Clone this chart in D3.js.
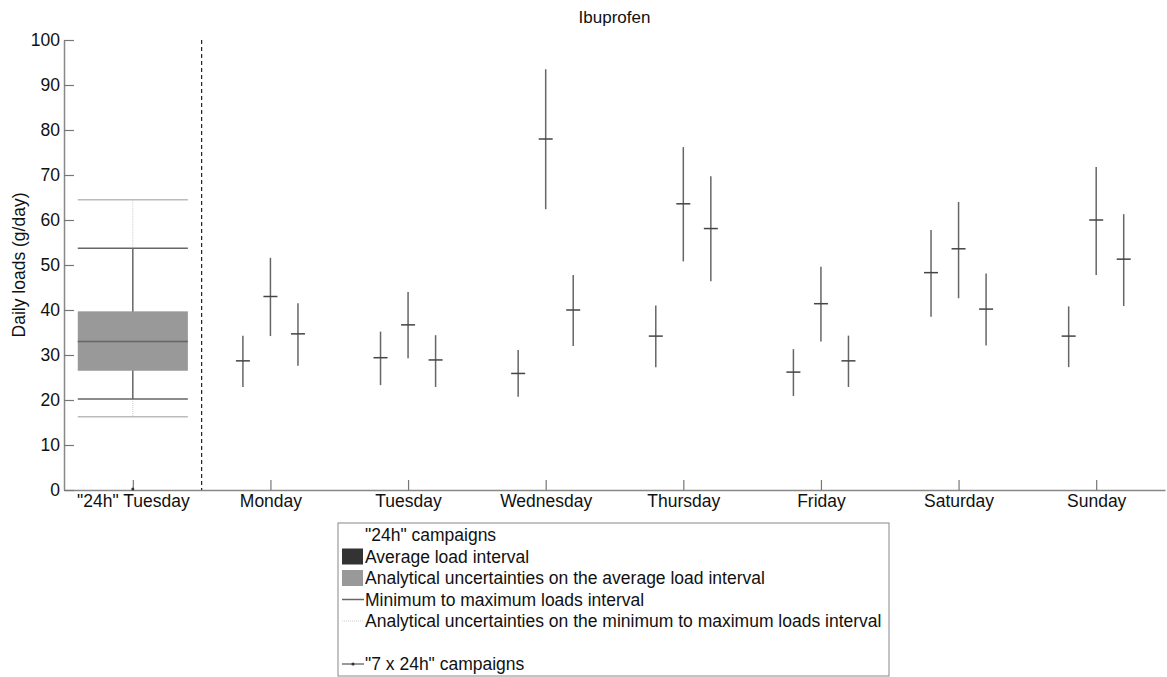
<!DOCTYPE html>
<html>
<head>
<meta charset="utf-8">
<script src="https://cdn.jsdelivr.net/npm/d3@7"></script>
<style>
  body { margin: 0; background: #fff; }
  text { font-family: "Liberation Sans", Arial, sans-serif; fill: #111; }
</style>
</head>
<body>
<div id="chart"></div>
<script>
const kWidth = 1167;
const kHeight = 677;
const kMargin = { top: 40, right: 2, bottom: 187, left: 64 };

const chartTitle = "Ibuprofen";
const yLabel = "Daily loads (g/day)";
const categories = ['"24h" Tuesday', "Monday", "Tuesday", "Wednesday", "Thursday", "Friday", "Saturday", "Sunday"];
const yTicks = [0, 10, 20, 30, 40, 50, 60, 70, 80, 90, 100];

// "24h" campaign summary (Tuesday)
const boxLow = 26.5, boxHigh = 39.7, boxMid = 33.0;
const whiskerLow = 20.2, whiskerHigh = 53.7;
const uncertLow = 16.3, uncertHigh = 64.5;

// "7 x 24h" campaigns, three per weekday
const weekDays = ["Monday", "Tuesday", "Wednesday", "Thursday", "Friday", "Saturday", "Sunday"];
const weekMean = [
  [28.7, 43.0, 34.7],
  [29.4, 36.7, 28.9],
  [25.9, 78.0, 40.0],
  [34.2, 63.6, 58.1],
  [26.2, 41.4, 28.7],
  [48.3, 53.6, 40.2],
  [34.2, 60.0, 51.3]
];
const weekLow = [
  [22.9, 34.2, 27.6],
  [23.3, 29.3, 22.9],
  [20.7, 62.4, 32.0],
  [27.3, 50.8, 46.4],
  [20.9, 33.0, 22.9],
  [38.5, 42.6, 32.1],
  [27.3, 47.8, 40.9]
];
const weekHigh = [
  [34.3, 51.6, 41.5],
  [35.2, 44.0, 34.4],
  [31.1, 93.5, 47.8],
  [41.0, 76.2, 69.7],
  [31.3, 49.6, 34.3],
  [57.8, 64.0, 48.1],
  [40.8, 71.8, 61.3]
];
const campaignOffsets = [-0.2, 0, 0.2];

const legendItems = [
  { label: '"24h" campaigns', kind: "none" },
  { label: "Average load interval", kind: "dark" },
  { label: "Analytical uncertainties on the average load interval", kind: "grey" },
  { label: "Minimum to maximum loads interval", kind: "line" },
  { label: "Analytical uncertainties on the minimum to maximum loads interval", kind: "dotted" },
  { label: "", kind: "none" },
  { label: '"7 x 24h" campaigns', kind: "marker" }
];

const svg = d3.select("#chart").append("svg")
  .attr("width", kWidth)
  .attr("height", kHeight);

const innerW = kWidth - kMargin.left - kMargin.right;
const innerH = kHeight - kMargin.top - kMargin.bottom;

const x = d3.scalePoint().domain(categories).range([0, innerW]).padding(0.5);
const step = x.step();
const y = d3.scaleLinear().domain([0, 100]).range([innerH, 0]);

const g = svg.append("g").attr("transform", `translate(${kMargin.left},${kMargin.top})`);

svg.append("text")
  .attr("x", kMargin.left + innerW / 2)
  .attr("y", 23)
  .attr("text-anchor", "middle")
  .style("font-size", "17px")
  .text(chartTitle);

svg.append("text")
  .attr("transform", `translate(25,${kMargin.top + innerH / 2}) rotate(-90)`)
  .attr("text-anchor", "middle")
  .style("font-size", "17.5px")
  .text(yLabel);

// axes
const xAxis = d3.axisBottom(x).tickSizeInner(-10).tickSizeOuter(0).tickPadding(5);
const yAxis = d3.axisLeft(y).tickValues(yTicks).tickSizeInner(-10).tickSizeOuter(0).tickPadding(4);

const gx = g.append("g").attr("transform", `translate(0,${innerH})`).call(xAxis);
const gy = g.append("g").call(yAxis);
[gx, gy].forEach(a => {
  a.select(".domain").attr("stroke", "#888").attr("stroke-width", 1.5);
  a.selectAll(".tick line").attr("stroke", "#777").attr("stroke-width", 1.2);
  a.selectAll(".tick text").style("font-size", "17.5px").attr("fill", "#111")
    .style("font-family", '"Liberation Sans", Arial, sans-serif');
});

// separator between "24h" and weekly campaigns
const sepX = x(categories[0]) + step / 2;
g.append("line")
  .attr("x1", sepX).attr("x2", sepX)
  .attr("y1", 0).attr("y2", innerH)
  .attr("stroke", "#222").attr("stroke-width", 1.2)
  .attr("stroke-dasharray", "4,3");

// "24h" box
const cx = x(categories[0]);
const halfBox = step * 0.4;
const boxG = g.append("g");

boxG.append("line")
  .attr("x1", cx).attr("x2", cx)
  .attr("y1", y(uncertHigh)).attr("y2", y(whiskerHigh))
  .attr("stroke", "#ccc").attr("stroke-width", 1).attr("stroke-dasharray", "1,1");
boxG.append("line")
  .attr("x1", cx).attr("x2", cx)
  .attr("y1", y(whiskerLow)).attr("y2", y(uncertLow))
  .attr("stroke", "#ccc").attr("stroke-width", 1).attr("stroke-dasharray", "1,1");

boxG.append("line")
  .attr("x1", cx).attr("x2", cx)
  .attr("y1", y(whiskerHigh)).attr("y2", y(whiskerLow))
  .attr("stroke", "#666").attr("stroke-width", 1.5);

boxG.append("rect")
  .attr("x", cx - halfBox)
  .attr("y", y(boxHigh))
  .attr("width", halfBox * 2)
  .attr("height", y(boxLow) - y(boxHigh))
  .attr("fill", "#999");

boxG.append("line")
  .attr("x1", cx - halfBox).attr("x2", cx + halfBox)
  .attr("y1", y(boxMid)).attr("y2", y(boxMid))
  .attr("stroke", "#666").attr("stroke-width", 1.5);

[whiskerLow, whiskerHigh].forEach(v => {
  boxG.append("line")
    .attr("x1", cx - halfBox).attr("x2", cx + halfBox)
    .attr("y1", y(v)).attr("y2", y(v))
    .attr("stroke", "#666").attr("stroke-width", 1.5);
});
[uncertLow, uncertHigh].forEach(v => {
  boxG.append("line")
    .attr("x1", cx - halfBox).attr("x2", cx + halfBox)
    .attr("y1", y(v)).attr("y2", y(v))
    .attr("stroke", "#bbb").attr("stroke-width", 1.5);
});

boxG.append("circle")
  .attr("cx", cx).attr("cy", y(0) - 1).attr("r", 1.5).attr("fill", "#333");

// weekly campaigns
const points = [];
weekDays.forEach((day, i) => {
  campaignOffsets.forEach((off, j) => {
    points.push({
      px: x(day) + off * step,
      mean: weekMean[i][j],
      low: weekLow[i][j],
      high: weekHigh[i][j]
    });
  });
});

const pg = g.selectAll(".campaign").data(points).enter().append("g").attr("class", "campaign");
pg.append("line")
  .attr("x1", d => d.px).attr("x2", d => d.px)
  .attr("y1", d => y(d.high)).attr("y2", d => y(d.low))
  .attr("stroke", "#666").attr("stroke-width", 1.5);
pg.append("line")
  .attr("x1", d => d.px - 7).attr("x2", d => d.px + 7)
  .attr("y1", d => y(d.mean)).attr("y2", d => y(d.mean))
  .attr("stroke", "#444").attr("stroke-width", 1.5);

// legend
const legX = 338, legY = 523, legW = 551, legH = 153, rowH = 21.5;
const leg = svg.append("g").attr("transform", `translate(${legX},${legY})`);
leg.append("rect")
  .attr("x", 0).attr("y", 0).attr("width", legW).attr("height", legH)
  .attr("fill", "#fff").attr("stroke", "#888").attr("stroke-width", 1);

const rows = leg.selectAll(".row").data(legendItems).enter().append("g")
  .attr("transform", (d, i) => `translate(0,${12 + i * rowH})`);

rows.append("text")
  .attr("x", 27).attr("y", 0).attr("dy", "0.35em")
  .style("font-size", "17.5px")
  .text(d => d.label);

rows.filter(d => d.kind === "dark").append("rect")
  .attr("x", 4).attr("y", -8).attr("width", 21).attr("height", 16).attr("fill", "#333");
rows.filter(d => d.kind === "grey").append("rect")
  .attr("x", 4).attr("y", -8).attr("width", 21).attr("height", 16).attr("fill", "#999");
rows.filter(d => d.kind === "line").append("line")
  .attr("x1", 4).attr("x2", 26).attr("y1", 0).attr("y2", 0)
  .attr("stroke", "#666").attr("stroke-width", 1.5);
rows.filter(d => d.kind === "dotted").append("line")
  .attr("x1", 4).attr("x2", 26).attr("y1", 0).attr("y2", 0)
  .attr("stroke", "#ccc").attr("stroke-width", 1).attr("stroke-dasharray", "1,1");
const mk = rows.filter(d => d.kind === "marker");
mk.append("line")
  .attr("x1", 4).attr("x2", 26).attr("y1", 0).attr("y2", 0)
  .attr("stroke", "#555").attr("stroke-width", 1.2);
mk.append("circle").attr("cx", 15).attr("cy", 0).attr("r", 1.6).attr("fill", "#333");
</script>
</body>
</html>
